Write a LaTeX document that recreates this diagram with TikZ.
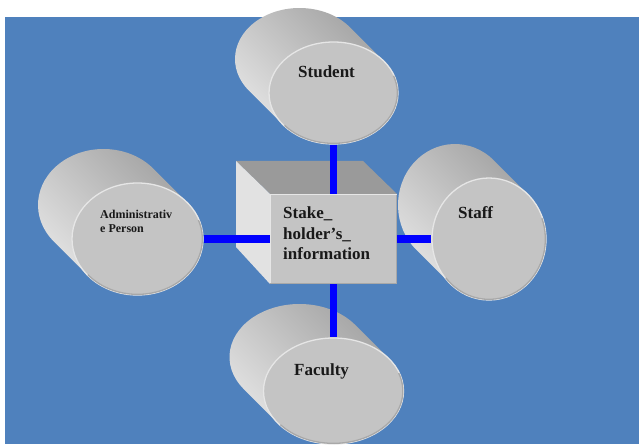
\documentclass[tikz,border=0pt]{standalone}
\usepackage{fontspec}
\setmainfont{Liberation Serif}
\usetikzlibrary{calc,shapes.geometric}
\definecolor{bgblue}{HTML}{4F81BD}
\definecolor{conblue}{HTML}{0000FF}
\definecolor{facegray}{HTML}{C4C4C4}
\definecolor{toplid}{HTML}{9A9A9A}
\definecolor{sideface}{HTML}{E2E2E2}
\definecolor{rimlight}{HTML}{E6E6E6}
\definecolor{rimdark}{HTML}{A8A8A8}
\definecolor{bodylight}{HTML}{E8E8E8}
\definecolor{bodymid}{HTML}{D2D2D2}
\definecolor{bodydark}{HTML}{9E9E9E}
\tikzset{
  body/.style={left color=bodylight, middle color=bodymid, right color=bodydark, shading angle=135},
  face/.style={ellipse, fill=facegray, draw=rimlight, line width=1.3pt, inner sep=0pt},
  frontbox/.style={rectangle, fill=facegray, inner sep=0pt, minimum width=127pt, minimum height=90pt},
  darkrim/.style={draw=rimdark, line width=1.3pt},
  lightrim/.style={draw=rimlight, line width=1.5pt},
  conn/.style={draw=conblue, line width=7.5pt},
  lbl/.style={font=\bfseries\fontsize{17}{20.5}\selectfont, inner sep=0pt, text=black!90},
  lblsmall/.style={font=\bfseries\fontsize{12}{14}\selectfont, inner sep=0pt, text=black!90}
}
\newcommand\mycyl[5]{%
  \pgfmathsetmacro\cylt{atan(#5/#4)}%
  \pgfmathsetmacro\cylta{\cylt+180}%
  \pgfmathsetmacro\cyltb{\cylt+360}%
  \shade[body] ($(#2,#3)+(-34,34)+(\cylt:#4pt and #5pt)$) arc[start angle=\cylt, end angle=\cylta, x radius=#4pt, y radius=#5pt] -- ++(34,-34) arc[start angle=\cylta, end angle=\cyltb, x radius=#4pt, y radius=#5pt] -- cycle;
  \node[face, minimum width=2*#4pt, minimum height=2*#5pt] (#1) at (#2,#3) {};
  \draw[darkrim] ($(#2,#3)+(-140:#4pt-0.65pt and #5pt-0.65pt)$) arc[start angle=-140, end angle=20, x radius=#4pt-0.65pt, y radius=#5pt-0.65pt];
}
\begin{document}
\begin{tikzpicture}[x=1pt,y=1pt]
\useasboundingbox (0,0) rectangle (639,444);
\fill[bgblue] (5,0) rectangle (639,427);
% cylinders
\mycyl{stu}{333.5}{351}{64.5}{51}
\mycyl{adm}{137.5}{205}{65.5}{56}
\mycyl{stf}{489}{205}{57}{61}
\mycyl{fac}{333.5}{53}{70}{53}
% cube
\fill[toplid] (236,283) -- (363,283) -- (397,250) -- (270,250) -- cycle;
\fill[sideface] (236,283) -- (270,250) -- (270,160) -- (236,197) -- cycle;
\node[frontbox] (cube) at (333.5,205) {};
\draw[lightrim] ([xshift=0.75pt]cube.south west) -- ([shift={(0.75pt,-0.75pt)}]cube.north west) -- ([yshift=-0.75pt]cube.north east);
\draw[darkrim] ([shift={(-0.75pt,-0.75pt)}]cube.north east) -- ([shift={(-0.75pt,0.75pt)}]cube.south east) -- ([yshift=0.75pt]cube.south west);
% connectors
\draw[conn] (stu.south) -- (cube.north);
\draw[conn] (cube.south) -- (fac.north);
\draw[conn] (adm.east) -- (cube.west);
\draw[conn] (cube.east) -- (stf.west);
% labels
\node[lbl, anchor=base west] (stuT) at (298,366) {Student};
\node[lbl, anchor=base west] (stfT) at (458,225) {Staff};
\node[lbl, anchor=base west] (facT) at (294,68) {Faculty};
\node[lbl, anchor=north west, align=left] (cubeT) at (283,237) {Stake\_\\holder’s\_\\information};
\node[lblsmall, anchor=north west, align=left] (admT) at (100,234.5) {Administrativ\\e Person};
\end{tikzpicture}
\end{document}
